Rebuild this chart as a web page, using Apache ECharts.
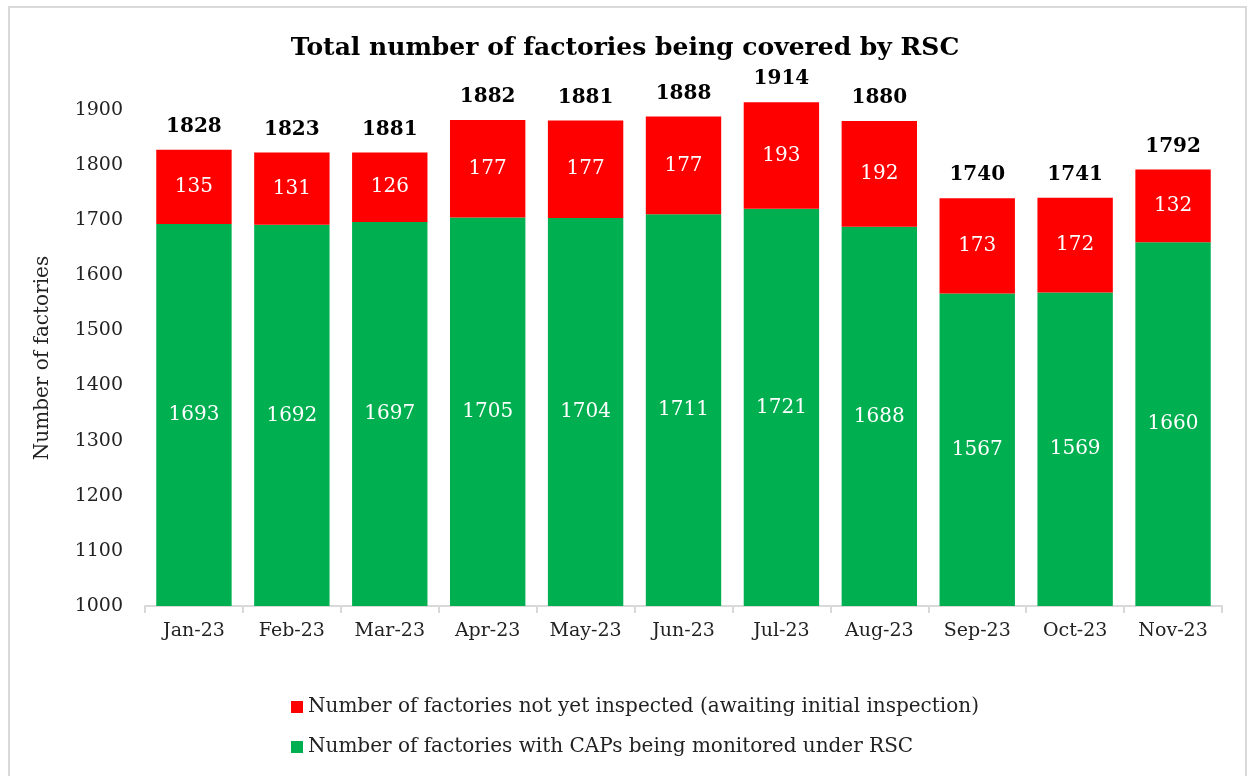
<!DOCTYPE html>
<html>
<head>
<meta charset="utf-8">
<script src="https://cdn.jsdelivr.net/npm/echarts@6/dist/echarts.min.js"></script>
<style>
  html, body { margin: 0; padding: 0; background: #fff; }
  #chart { width: 1250px; height: 776px; }
</style>
</head>
<body>
<div id="chart"></div>
<script>
const months = ['Jan-23', 'Feb-23', 'Mar-23', 'Apr-23', 'May-23', 'Jun-23', 'Jul-23', 'Aug-23', 'Sep-23', 'Oct-23', 'Nov-23'];
const monitored = [1693, 1692, 1697, 1705, 1704, 1711, 1721, 1688, 1567, 1569, 1660];
const notInspected = [135, 131, 126, 177, 177, 177, 193, 192, 173, 172, 132];
// totals as printed on the chart (Mar label reads 1881 in the original)
const totals = [1828, 1823, 1881, 1882, 1881, 1888, 1914, 1880, 1740, 1741, 1792];

const FONT = 'DejaVu Serif';
const nameRed = 'Number of factories not yet inspected (awaiting initial inspection)';
const nameGreen = 'Number of factories with CAPs being monitored under RSC';

const chart = echarts.init(document.getElementById('chart'));

chart.setOption({
  animation: false,
  textStyle: { fontFamily: FONT },
  title: {
    text: 'Total number of factories being covered by RSC',
    left: 'center',
    top: 31,
    textStyle: { fontFamily: FONT, fontSize: 25, fontWeight: 'bold', color: '#000' }
  },
  graphic: [{
    type: 'rect',
    shape: { x: 9, y: 7, width: 1237, height: 800 },
    style: { fill: 'none', stroke: '#d9d9d9', lineWidth: 2 },
    silent: true
  }],
  legend: {
    data: [nameRed, nameGreen],
    orient: 'vertical',
    left: 286,
    top: 692,
    itemWidth: 12,
    itemHeight: 12,
    itemGap: 20,
    icon: 'rect',
    textStyle: { fontFamily: FONT, fontSize: 20, color: '#222' }
  },
  grid: { left: 145, right: 28, top: 110, bottom: 170 },
  xAxis: {
    type: 'category',
    data: months,
    axisLine: { lineStyle: { color: '#d9d9d9', width: 2 } },
    axisTick: { show: true, length: 7, lineStyle: { color: '#d9d9d9', width: 2 } },
    axisLabel: { fontFamily: FONT, fontSize: 19, color: '#222', margin: 16 }
  },
  yAxis: {
    type: 'value',
    min: 1000,
    max: 1900,
    interval: 100,
    name: 'Number of factories',
    nameLocation: 'middle',
    nameGap: 92,
    nameTextStyle: { fontFamily: FONT, fontSize: 20, color: '#222' },
    axisLine: { show: false },
    axisTick: { show: false },
    splitLine: { show: false },
    axisLabel: { fontFamily: FONT, fontSize: 19, color: '#222', margin: 22, formatter: v => String(v) }
  },
  series: [
    {
      name: nameGreen,
      type: 'bar',
      stack: 'total',
      data: monitored,
      barWidth: '77%',
      clip: true,
      itemStyle: { color: '#00b050' },
      label: { show: true, position: 'inside', color: '#fff', fontFamily: FONT, fontSize: 20 }
    },
    {
      name: nameRed,
      type: 'bar',
      stack: 'total',
      data: notInspected,
      barWidth: '77%',
      clip: false,
      itemStyle: { color: '#ff0000' },
      label: { show: true, position: 'inside', color: '#fff', fontFamily: FONT, fontSize: 20 }
    },
    {
      name: 'Total',
      type: 'scatter',
      data: monitored.map((v, i) => v + notInspected[i]),
      symbolSize: 2,
      itemStyle: { color: 'rgba(0,0,0,0)', opacity: 1 },
      clip: false,
      silent: true,
      label: {
        show: true,
        position: 'top',
        distance: 12,
        formatter: p => totals[p.dataIndex],
        fontFamily: FONT,
        fontSize: 20,
        fontWeight: 'bold',
        color: '#000',
        textBorderWidth: 0
      }
    }
  ]
});
</script>
</body>
</html>
